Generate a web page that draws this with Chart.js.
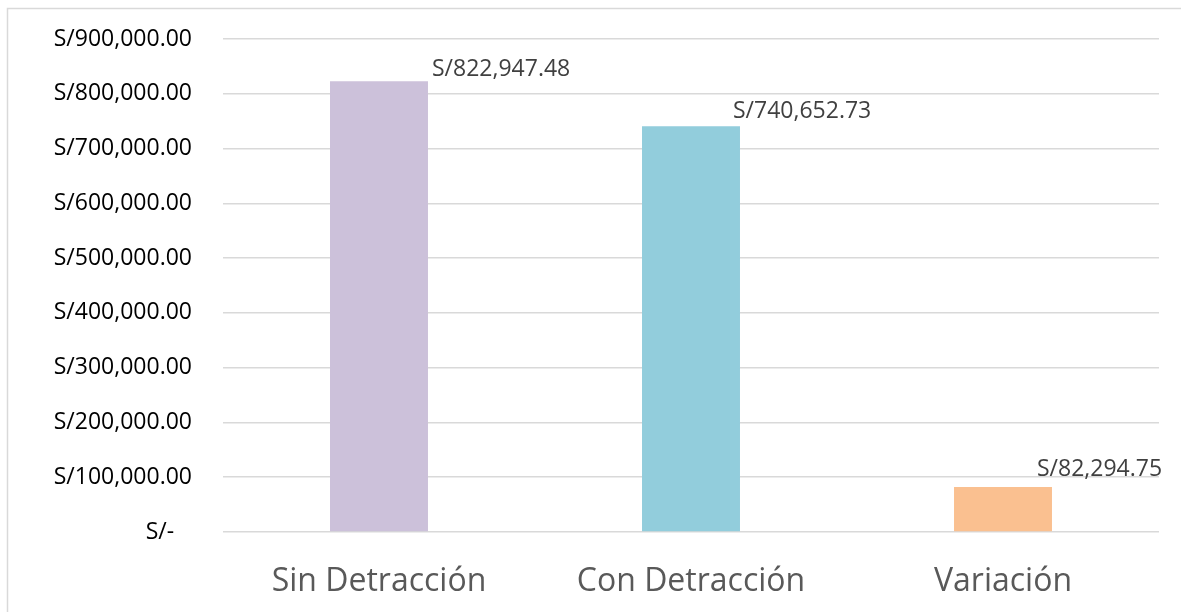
<!DOCTYPE html>
<html>
<head>
<meta charset="utf-8">
<script src="https://cdn.jsdelivr.net/npm/chart.js@4/dist/chart.umd.min.js"></script>
<style>
  html, body { margin: 0; padding: 0; background: #fff; }
  #wrap { position: relative; width: 1181px; height: 612px; }
</style>
</head>
<body>
<div id="wrap"><canvas id="chart" width="1181" height="612"></canvas></div>
<script>
// Data
const categories = ['Sin Detracción', 'Con Detracción', 'Variación'];
const montos = [822947.48, 740652.73, 82294.75];
const barColors = ['#CCC1DA', '#92CDDC', '#FAC090'];
const yMin = 0;
const yMax = 900000;
const yStep = 100000;

function soles(v) {
    if (v === 0) return 'S/-   ';
    return 'S/' + v.toLocaleString('en-US', { minimumFractionDigits: 2, maximumFractionDigits: 2 });
}

// Excel-style labels sitting near each bar's top right corner
const labelPlugin = {
    id: 'barLabels',
    afterDatasetsDraw(chart, args, opts) {
        const ctx = chart.ctx;
        const meta = chart.getDatasetMeta(0);
        ctx.save();
        ctx.font = opts.font;
        ctx.fillStyle = opts.color;
        ctx.textAlign = 'left';
        ctx.textBaseline = 'middle';
        meta.data.forEach((bar, i) => {
            const right = bar.x + bar.width / 2;
            const off = opts.offsets[i];
            ctx.fillText(soles(chart.data.datasets[0].data[i]), right + off[0], bar.y + off[1]);
        });
        ctx.restore();
    }
};

// Thin frame round the whole chart
const framePlugin = {
    id: 'frame',
    beforeDraw(chart) {
        const ctx = chart.ctx;
        ctx.save();
        ctx.strokeStyle = '#d9d9d9';
        ctx.lineWidth = 1.5;
        ctx.strokeRect(7.5, 8.5, 1300, 700);
        ctx.restore();
    }
};

new Chart(document.getElementById('chart'), {
    type: 'bar',
    data: {
        labels: categories,
        datasets: [{
            data: montos,
            backgroundColor: barColors,
            borderWidth: 0,
            categoryPercentage: 1,
            barPercentage: 0.314
        }]
    },
    options: {
        responsive: false,
        animation: false,
        layout: { padding: { top: 39, right: 22, bottom: 0, left: 0 } },
        plugins: {
            legend: { display: false },
            tooltip: { enabled: false },
            barLabels: {
                font: '23px "Open Sans"',
                color: '#404040',
                offsets: [[4, -12], [-7, -15], [-15, -17]]
            }
        },
        scales: {
            x: {
                grid: { display: false, drawTicks: false },
                border: { display: false },
                ticks: {
                    color: '#595959',
                    font: { family: 'Open Sans', size: 32 },
                    padding: 31,
                    maxRotation: 0
                },
                afterFit(scale) { scale.height = 80; }
            },
            y: {
                min: yMin,
                max: yMax,
                grid: { color: '#d9d9d9', lineWidth: 1.5, drawTicks: false },
                border: { display: false },
                ticks: {
                    stepSize: yStep,
                    color: '#000',
                    font: { family: 'Open Sans', size: 23 },
                    padding: 31,
                    callback: v => soles(v)
                },
                afterFit(scale) {
                    scale.width = 223;
                    scale.paddingTop = 14;
                    scale.paddingBottom = 14;
                }
            }
        }
    },
    plugins: [labelPlugin, framePlugin]
});
</script>
</body>
</html>
